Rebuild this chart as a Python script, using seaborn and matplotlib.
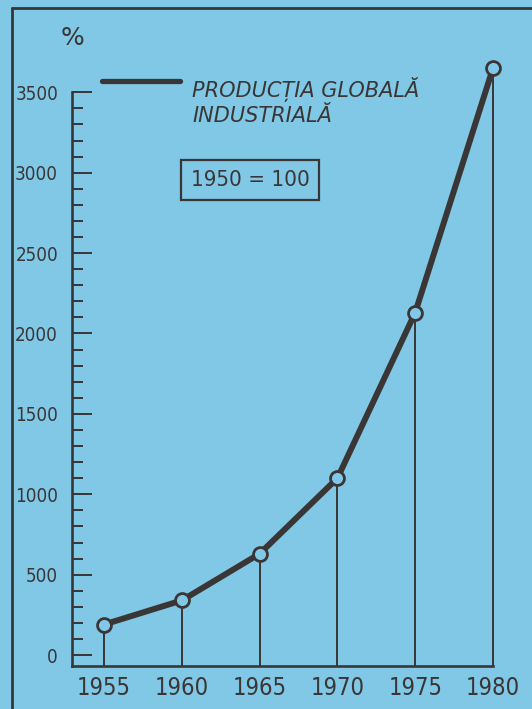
import matplotlib
matplotlib.use("Agg")
import matplotlib.pyplot as plt
from matplotlib.lines import Line2D
from matplotlib.ticker import FixedLocator
import seaborn as sns
import pandas as pd

# data (1950 = 100)
years = [1955, 1960, 1965, 1970, 1975, 1980]
values = [190, 340, 630, 1100, 2130, 3650]
y_ticks = [0, 500, 1000, 1500, 2000, 2500, 3000, 3500]
legend_lines = ["PRODUCȚIA GLOBALĂ", "INDUSTRIALĂ"]
base_note = "1950 = 100"

bg = "#80c8e6"
ink = "#3a3636"

sns.set_style("white")
plt.rcParams["font.family"] = ["DejaVu Sans"]

df = pd.DataFrame({"an": years, "procent": values})

fig = plt.figure(figsize=(5.32, 7.09), dpi=100, facecolor=bg)
ax = fig.add_axes([72 / 532, 1 - 666 / 709, (493 - 72) / 532, (666 - 40) / 709])
ax.set_facecolor(bg)

# thin drop lines from the axis up to each point
ax.vlines(df["an"], -68, df["procent"], color=ink, lw=1.4, zorder=2, clip_on=False)

sns.lineplot(data=df, x="an", y="procent", ax=ax, color=ink, lw=4.3,
             marker="o", markersize=10, markerfacecolor=bg,
             markeredgecolor=ink, markeredgewidth=2, clip_on=False, zorder=3)

ax.set_xlim(1952.94, 1980)
ax.set_ylim(-68, 3825)
ax.set_xlabel("")
ax.set_ylabel("")

ax.set_xticks(years)
ax.set_xticklabels([str(y) for y in years], fontsize=17, fontstretch="condensed",
                   color=ink)
ax.tick_params(axis="x", length=0, pad=7)

ax.set_yticks(y_ticks)
ax.set_yticklabels([str(v) for v in y_ticks], fontsize=13.5, fontstretch="condensed",
                   color=ink)
minor = [v for v in range(0, 3501, 100) if v % 500]
ax.yaxis.set_minor_locator(FixedLocator(minor))
ax.tick_params(axis="y", which="major", direction="in", length=14.5, width=1.4,
               color=ink, pad=10, left=True)
ax.tick_params(axis="y", which="minor", direction="in", length=8, width=1.4,
               color=ink, left=True)

for side in ["top", "right"]:
    ax.spines[side].set_visible(False)
for side in ["left", "bottom"]:
    ax.spines[side].set_color(ink)
    ax.spines[side].set_linewidth(1.9)
ax.spines["left"].set_bounds(-68, 3500)

# "%" unit above the axis
fig.text(72 / 532, 1 - 38 / 709, "%", fontsize=18, color=ink, ha="center", va="center")

# legend drawn by hand like the original
fig.add_artist(Line2D([102 / 532, 180 / 532], [1 - 81 / 709, 1 - 81 / 709],
                      color=ink, lw=3.8, solid_capstyle="round"))
fig.text(192 / 532, 1 - 89 / 709, legend_lines[0], fontsize=15, style="italic",
         color=ink, ha="left", va="center")
fig.text(192 / 532, 1 - 116 / 709, legend_lines[1], fontsize=15, style="italic",
         color=ink, ha="left", va="center")

fig.text(250 / 532, 1 - 180 / 709, base_note, fontsize=16, fontstretch="condensed",
         color=ink, ha="center", va="center",
         bbox=dict(boxstyle="square,pad=0.45", facecolor="none", edgecolor=ink, lw=1.6))

# outer frame (top and left edges visible)
fig.add_artist(Line2D([12 / 532, 1.0], [1 - 8 / 709, 1 - 8 / 709], color=ink, lw=2))
fig.add_artist(Line2D([12 / 532, 12 / 532], [0.0, 1 - 8 / 709], color=ink, lw=2))

fig.savefig("out.png", dpi=100, facecolor=bg)
